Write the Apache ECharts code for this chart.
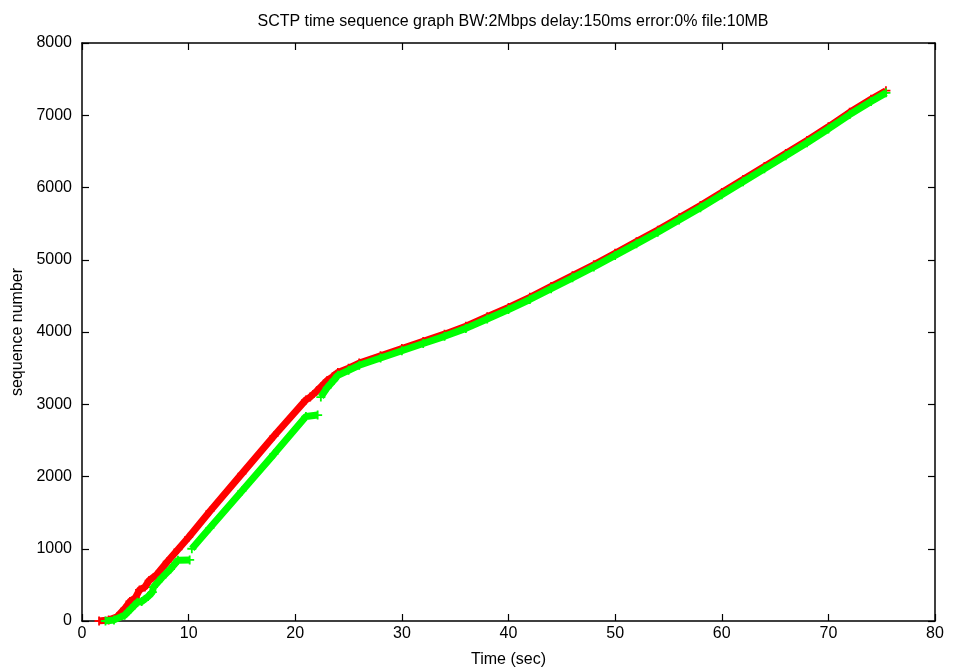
<!DOCTYPE html>
<html>
<head>
<meta charset="utf-8">
<script src="https://cdn.jsdelivr.net/npm/echarts@6/dist/echarts.min.js"></script>
<style>
  html, body { margin: 0; padding: 0; background: #fff; }
  #chart { width: 954px; height: 668px; }
</style>
</head>
<body>
<div id="chart"></div>
<script>
// values (time in sec, sequence number)
var redTime = [1.6, 2.5, 3.3, 4.0, 4.5, 5.0, 5.4, 5.9, 6.3, 7.0, 8, 9, 10, 12, 15, 18, 21, 21.4, 22, 22.4, 23, 23.5, 24];
var redSeq  = [0, 15, 60, 170, 270, 320, 430, 470, 560, 640, 820, 990, 1160, 1520, 2040, 2560, 3060, 3100, 3180, 3240, 3330, 3380, 3440];

var greenTime = [2.2, 3, 4, 4.6, 5.2, 5.6, 6.2, 6.6, 6.7, 7.5, 8.3, 9, 10.1, null, 10.3, 12, 15, 18, 21, 22.1, null, 22.4, 23, 23.6, 24];
var greenSeq  = [0, 15, 80, 170, 260, 270, 340, 400, 470, 600, 720, 840, 845, null, 1000, 1290, 1800, 2310, 2830, 2850, null, 3100, 3230, 3330, 3400];

var tailTime  = [25, 26, 28, 30, 32, 34, 36, 38, 40, 42, 44, 46, 48, 50, 52, 54, 56, 58, 60, 62, 64, 66, 68, 70, 72, 74, 75.4];
var redTail   = [3500, 3570, 3670, 3770, 3870, 3970, 4080, 4210, 4340, 4480, 4630, 4780, 4930, 5090, 5250, 5410, 5580, 5750, 5930, 6110, 6290, 6470, 6650, 6840, 7040, 7220, 7340];
var greenTail = [3470, 3540, 3640, 3740, 3840, 3940, 4050, 4180, 4310, 4450, 4600, 4750, 4900, 5060, 5220, 5380, 5550, 5720, 5900, 6080, 6260, 6440, 6620, 6810, 7010, 7190, 7310];

var xTicks = [0, 10, 20, 30, 40, 50, 60, 70, 80];
var yTicks = [0, 1000, 2000, 3000, 4000, 5000, 6000, 7000, 8000];

function pairs(t, v) {
    var out = [];
    for (var i = 0; i < t.length; i++) {
        if (t[i] === null) { out.push([null, null]); continue; }
        out.push([t[i], v[i]]);
    }
    return out;
}

var redData = pairs(redTime, redSeq).concat(pairs(tailTime, redTail));
var greenData = pairs(greenTime, greenSeq).concat(pairs(tailTime, greenTail));

var plus = 'path://M4,0 L6,0 L6,4 L10,4 L10,6 L6,6 L6,10 L4,10 L4,6 L0,6 L0,4 L4,4 Z';
var font = 'Liberation Sans';

var chart = echarts.init(document.getElementById('chart'));

var axisBase = {
    type: 'value',
    axisLine: { show: true, onZero: false, lineStyle: { color: '#000', width: 1.5 } },
    axisTick: { show: true, inside: true, length: 7, lineStyle: { color: '#000', width: 1.2 } },
    splitLine: { show: false }
};

option = {
    backgroundColor: '#fff',
    animation: false,
    title: {
        text: 'SCTP time sequence graph BW:2Mbps delay:150ms error:0% file:10MB',
        left: 508,
        textAlign: 'center',
        top: 9,
        textStyle: { fontFamily: font, fontSize: 16, fontWeight: 'normal', color: '#000' }
    },
    grid: { left: 82, right: 19, top: 43, bottom: 47, outerBoundsMode: 'none' },
    xAxis: [
        Object.assign({}, axisBase, {
            position: 'bottom',
            min: 0, max: 80, interval: 10,
            name: 'Time (sec)',
            nameLocation: 'middle',
            nameGap: 31,
            nameTextStyle: { fontFamily: font, fontSize: 16, color: '#000' },
            axisLabel: {
                margin: 5, fontFamily: font, fontSize: 16, color: '#000',
                customValues: xTicks,
                formatter: function (v) { return String(v); }
            }
        }),
        Object.assign({}, axisBase, {
            position: 'top',
            min: 0, max: 80, interval: 10,
            axisLabel: { show: false }
        })
    ],
    yAxis: [
        Object.assign({}, axisBase, {
            position: 'left',
            min: 0, max: 8000, interval: 1000,
            name: 'sequence number',
            nameLocation: 'middle',
            nameGap: 56,
            nameTextStyle: { fontFamily: font, fontSize: 16, color: '#000' },
            axisLabel: {
                margin: 10, fontFamily: font, fontSize: 16, color: '#000',
                customValues: yTicks,
                formatter: function (v) { return String(v); }
            }
        }),
        Object.assign({}, axisBase, {
            position: 'right',
            min: 0, max: 8000, interval: 1000,
            axisLabel: { show: false }
        })
    ],
    series: [
        {
            name: 'red',
            type: 'line',
            data: redData,
            connectNulls: false,
            symbol: plus,
            symbolSize: 9,
            showSymbol: true,
            itemStyle: { color: '#ff0000' },
            lineStyle: { color: '#ff0000', width: 7 },
            z: 2
        },
        {
            name: 'green',
            type: 'line',
            data: greenData,
            connectNulls: false,
            symbol: plus,
            symbolSize: 9,
            showSymbol: true,
            itemStyle: { color: '#00ff00' },
            lineStyle: { color: '#00ff00', width: 7 },
            z: 3
        }
    ]
};

chart.setOption(option);
window.onresize = chart.resize;
</script>
</body>
</html>
